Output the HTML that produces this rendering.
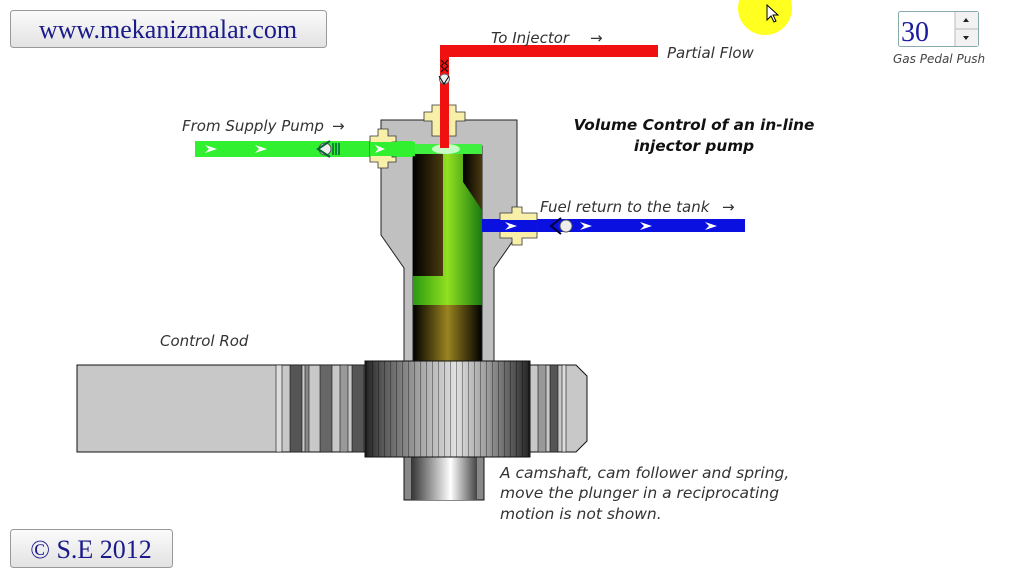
<!DOCTYPE html>
<html><head><meta charset="utf-8"><style>
html,body{margin:0;padding:0;background:#fff;}
svg{display:block;}
text{font-family:"DejaVu Sans","Liberation Sans",sans-serif;font-style:italic;fill:#333;}
</style></head><body>
<svg width="1024" height="577" viewBox="0 0 1024 577" xmlns="http://www.w3.org/2000/svg">
<defs>
<linearGradient id="btn" x1="0" y1="0" x2="0" y2="1"><stop offset="0" stop-color="#fbfbfb"/><stop offset="1" stop-color="#e2e2e2"/></linearGradient>
<linearGradient id="brown" x1="0" y1="0" x2="1" y2="0"><stop offset="0" stop-color="#000"/><stop offset="0.5" stop-color="#9a8420"/><stop offset="1" stop-color="#000"/></linearGradient>
<linearGradient id="dk" x1="0" y1="0" x2="1" y2="0"><stop offset="0" stop-color="#000"/><stop offset="1" stop-color="#4a3a10"/></linearGradient>
<linearGradient id="grn" x1="0" y1="0" x2="1" y2="0"><stop offset="0" stop-color="#2a9a10"/><stop offset="0.5" stop-color="#90e020"/><stop offset="1" stop-color="#1a7a10"/></linearGradient>
<linearGradient id="shaft" x1="0" y1="0" x2="1" y2="0"><stop offset="0" stop-color="#333"/><stop offset="0.6" stop-color="#fff"/><stop offset="1" stop-color="#444"/></linearGradient>
<linearGradient id="gear" x1="0" y1="0" x2="1" y2="0">
<stop offset="0" stop-color="#222"/><stop offset="0.1" stop-color="#555"/><stop offset="0.2" stop-color="#777"/><stop offset="0.35" stop-color="#aaa"/><stop offset="0.55" stop-color="#e0e0e0"/><stop offset="0.75" stop-color="#999"/><stop offset="0.9" stop-color="#555"/><stop offset="1" stop-color="#222"/></linearGradient>
<pattern id="teeth" width="6" height="10" patternUnits="userSpaceOnUse"><rect width="6" height="10" fill="none"/><rect x="0" width="1" height="10" fill="#000" opacity="0.35"/></pattern>
</defs>

<rect x="10.5" y="10.5" width="316" height="37" rx="3" fill="url(#btn)" stroke="#999"/>
<text x="168" y="38" text-anchor="middle" style="font-family:'Liberation Serif',serif;font-style:normal;font-size:26px;fill:#1a1a8a">www.mekanizmalar.com</text>
<rect x="10.5" y="529.5" width="162" height="38" rx="3" fill="url(#btn)" stroke="#999"/>
<text x="91" y="558" text-anchor="middle" style="font-family:'Liberation Serif',serif;font-style:normal;font-size:26px;fill:#1a1a8a">© S.E 2012</text>

<circle cx="765" cy="8" r="27" fill="#ffff20"/>
<path d="M767 5 L767 20 L771 16 L774 22 L776 21 L773 15 L778 15 Z" fill="#fff" stroke="#000" stroke-width="1"/>

<rect x="898.5" y="11.5" width="80" height="35" rx="2" fill="#fff" stroke="#8aa"/>
<rect x="955" y="12" width="23" height="34" fill="#f2f2f2"/>
<line x1="955" y1="29" x2="978" y2="29" stroke="#bbb"/>
<line x1="955" y1="12" x2="955" y2="46" stroke="#bbb"/>
<text x="901" y="41" style="font-family:'Liberation Serif',serif;font-style:normal;font-size:28px;fill:#1a1aa0">30</text>
<path d="M963 22 L966 18 L969 22Z M963 36 L966 40 L969 36Z" fill="#222"/>
<text x="893" y="63" style="font-size:12px;fill:#444">Gas Pedal Push</text>

<rect x="440" y="45" width="218" height="12" fill="#f01010"/>
<rect x="440" y="45" width="9" height="105" fill="#f01010"/>
<path d="M441 60 l3 3 l-3 3 l3 3 l-3 3 M448 60 l-3 3 l3 3 l-3 3 l3 3" stroke="#000" fill="none"/>
<circle cx="444.5" cy="79" r="5" fill="#eee" stroke="#666"/>
<path d="M439 76 l5 8 l5 -8" stroke="#000" fill="none"/>

<path d="M381 120 H517 V235 L494 268 V362 H404 V268 L381 235 Z" fill="#c0c0c0" stroke="#222"/>
<rect x="413" y="146" width="69" height="216" fill="url(#brown)" stroke="#222"/>
<rect x="413" y="154" width="30" height="122" fill="url(#dk)"/>
<path d="M463 154 H482 V210 L463 182 Z" fill="url(#dk)"/>
<path d="M443 154 H463 V182 L482 210 V305 H413 V276 H443 Z" fill="url(#grn)"/>
<rect x="413" y="144" width="69" height="10" fill="#40f040"/>
<ellipse cx="446" cy="149" rx="14" ry="5" fill="#e8ffe8" opacity="0.8"/>

<path d="M432 105 H456 V112 H465 V121 H456 V136 H432 V121 H424 V112 H432 Z" fill="#f8f0a8" stroke="#333" stroke-width="0.8"/>
<rect x="440" y="98" width="9" height="50" fill="#f01010"/>

<rect x="195" y="141" width="218" height="16" fill="#30f030"/>
<path d="M205 145 l12 4 l-12 4 l4 -4Z M255 145 l12 4 l-12 4 l4 -4Z" fill="#fff"/>
<circle cx="325" cy="149" r="6" fill="#eee" stroke="#555"/>
<path d="M330 141 l-12 8 l12 8" stroke="#063" stroke-width="2" fill="none"/>
<path d="M333 143 v12 M336 143 v12 M339 143 v12" stroke="#063" stroke-width="1.5"/>
<path d="M370 136 H378 V129 H388 V136 H396 V142 H392 V157 H396 V162 H388 V168 H378 V162 H370 Z" fill="#f8f0a8" stroke="#333" stroke-width="0.8"/>
<rect x="370" y="142" width="45" height="14" fill="#30f030"/>
<path d="M375 145 l10 4 l-10 4 l3 -4Z" fill="#fff"/>

<rect x="482" y="219" width="263" height="13" fill="#0a10e0"/>
<path d="M500 213 H512 V207 H522 V213 H537 V238 H522 V245 H512 V238 H500 Z" fill="#f8f0a8" stroke="#333" stroke-width="0.8"/>
<rect x="482" y="220" width="55" height="12" fill="#0a10e0"/>
<path d="M505 222 l12 4 l-12 4 l4 -4Z M580 222 l12 4 l-12 4 l4 -4Z M640 222 l12 4 l-12 4 l4 -4Z M705 222 l12 4 l-12 4 l4 -4Z" fill="#fff"/>
<circle cx="566" cy="226" r="6" fill="#eee" stroke="#555"/>
<path d="M561 218 l-10 8 l10 8" stroke="#003" stroke-width="2" fill="none"/>

<path d="M77 365 H576 L587 376 V441 L576 452 H77 Z" fill="#c8c8c8" stroke="#111"/>
<g stroke="#111" stroke-width="0.6">
<rect x="276" y="365" width="6" height="87" fill="#ddd"/>
<rect x="290" y="365" width="12" height="87" fill="#555"/>
<rect x="305" y="365" width="4" height="87" fill="#888"/>
<rect x="320" y="365" width="12" height="87" fill="#666"/>
<rect x="340" y="365" width="8" height="87" fill="#999"/>
<rect x="352" y="365" width="12" height="87" fill="#555"/>
<rect x="538" y="365" width="8" height="87" fill="#999"/>
<rect x="550" y="365" width="8" height="87" fill="#555"/>
<rect x="562" y="365" width="4" height="87" fill="#ddd"/>
</g>
<rect x="404" y="455" width="80" height="45" fill="#888" stroke="#111"/>
<rect x="411" y="455" width="66" height="45" fill="url(#shaft)"/>
<rect x="365" y="361" width="165" height="96" fill="url(#gear)" stroke="#111"/>
<rect x="365" y="361" width="165" height="96" fill="url(#teeth)"/>

<text x="491" y="43" style="font-size:15px">To Injector</text>
<text x="590" y="43" style="font-size:15px">→</text>
<text x="667" y="58" style="font-size:15px">Partial Flow</text>
<text x="182" y="131" style="font-size:15px">From Supply Pump</text>
<text x="332" y="131" style="font-size:15px">→</text>
<text x="694" y="130" text-anchor="middle" style="font-size:15.3px;font-weight:bold;fill:#111">Volume Control of an in-line</text>
<text x="694" y="151" text-anchor="middle" style="font-size:15.3px;font-weight:bold;fill:#111">injector pump</text>
<text x="540" y="212" style="font-size:15px">Fuel return to the tank</text>
<text x="722" y="212" style="font-size:15px">→</text>
<text x="160" y="346" style="font-size:15px">Control Rod</text>
<text x="500" y="478" style="font-size:15.5px">A camshaft, cam follower and spring,</text>
<text x="500" y="498" style="font-size:15.5px">move the plunger in a reciprocating</text>
<text x="500" y="519" style="font-size:15.5px">motion is not shown.</text>
</svg>
</body></html>
